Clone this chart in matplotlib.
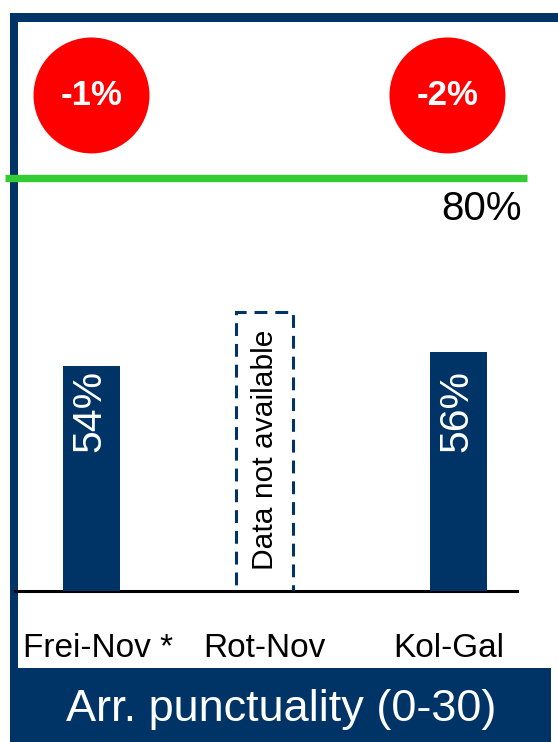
import matplotlib.pyplot as plt
from matplotlib.patches import Rectangle
from matplotlib.transforms import ScaledTranslation

plt.rcParams['font.family'] = ['Liberation Sans', 'DejaVu Sans']

# data
routes = ['Frei-Nov *', 'Rot-Nov', 'Kol-Gal']
punctuality = [54, None, 56]          # None -> data not available
changes = ['-1%', None, '-2%']
target = 80
title = 'Arr. punctuality (0-30)'

navy = '#003366'
W, H = 558, 742

fig = plt.figure(figsize=(W / 100, H / 100), dpi=100, facecolor='w')


def fr(x, y, w, h):
    # pixel box (top-left origin) -> figure fraction
    return x / W, 1 - (y + h) / H, w / W, h / H


# frame round the panel
for box in [(10, 13, 8, 729), (10, 13, 548, 9), (10, 668, 541, 74)]:
    x0, y0, w, h = fr(*box)
    fig.add_artist(Rectangle((x0, y0), w, h, transform=fig.transFigure,
                             facecolor=navy, edgecolor='none', zorder=0))
fig.text(281 / W, 1 - 710 / H, title, color='w', fontsize=32.5,
         ha='center', va='center')

ax = fig.add_axes(fr(15, 26, 502, 565))
ax.set_xlim(-0.417, 2.319)
ax.set_ylim(22.9, 101.0)
pos = [0, 0.945, 2]
bubble_dx = [0, 0, -0.06]

for x, v in zip(pos, punctuality):
    if v is None:
        ax.bar(x, 61.5, width=0.31, facecolor='none', edgecolor=navy,
               linestyle=(0, (4.2, 2.6)), linewidth=2.2, zorder=3)
        ax.text(x, 42.4, 'Data not available', rotation=90, fontsize=21.6,
                ha='center', va='center', color='k')
    else:
        ax.bar(x, v, width=0.31, color=navy, zorder=3)
        ax.text(x - 0.01, 47.8, f'{v}%', rotation=90, fontsize=29.5,
                ha='center', va='center', color='w', zorder=4)

# target line
ax.plot([-0.471, 2.373], [target, target], color='#33CC33', lw=5.3,
        clip_on=False, solid_capstyle='butt', zorder=5)
ax.annotate(f'{target}%', xy=(2.373, target), xytext=(-4, -9),
            textcoords='offset points', ha='right', va='top', fontsize=29,
            annotation_clip=False)

# change bubbles
for x, dx, c in zip(pos, bubble_dx, changes):
    if c is None:
        continue
    ax.scatter([x + dx], [91.4], s=6970, color='#FF0000', edgecolors='none',
               clip_on=False, zorder=5)
    ax.text(x + dx, 91.4, c, color='w', fontsize=25, fontweight='bold',
            ha='center', va='center', zorder=6)

for s in ['top', 'right', 'left']:
    ax.spines[s].set_visible(False)
ax.spines['bottom'].set_linewidth(2.2)
ax.set_yticks([])
ax.set_xticks(pos)
ax.set_xticklabels(routes, fontsize=24)
ax.tick_params(axis='x', length=0, pad=30)
for lab, dx in zip(ax.get_xticklabels(), [7, 0, -10]):
    lab.set_transform(lab.get_transform() +
                      ScaledTranslation(dx / 100, 0, fig.dpi_scale_trans))
ax.set_facecolor('none')

fig.savefig('out.png', dpi=100)
